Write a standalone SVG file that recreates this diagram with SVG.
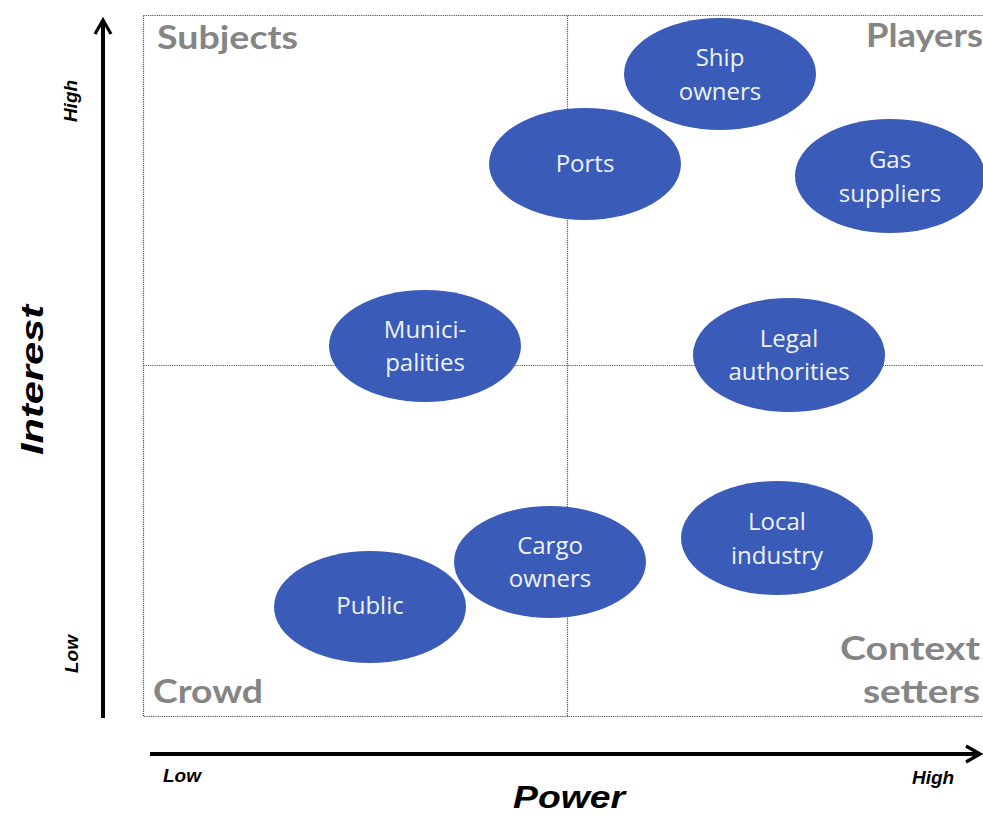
<svg xmlns="http://www.w3.org/2000/svg" width="983" height="815" viewBox="0 0 983 815">
<style>
.node ellipse{fill:#3A5BB8;}
.node text{font-family:"Open Sans","Noto Sans",sans-serif;font-size:24px;fill:#EEF2FA;text-anchor:middle;}
.quad{font-family:"Lato","Liberation Sans",sans-serif;font-weight:bold;font-size:33px;fill:#858585;}
.axis{font-family:"Liberation Sans",sans-serif;font-weight:bold;font-style:italic;fill:#000;}
.grid{fill:none;stroke:#555;stroke-width:1.2;stroke-dasharray:1.2 1;}
.ax{stroke:#000;stroke-width:4;fill:none;}
</style>
<defs>
<marker id="arr" viewBox="0 0 20 20" refX="17" refY="10" markerWidth="5" markerHeight="5" orient="auto" markerUnits="strokeWidth">
<path d="M3,2 L17,10 L3,18" fill="none" stroke="#000" stroke-width="3.2" stroke-linejoin="miter"/>
</marker>
</defs>
<rect width="983" height="815" fill="#fff"/>
<g id="grid">
<path class="grid" d="M143.5,15.5 H984 M143.5,15.5 V716.5 H984 M567.5,15.5 V716.5 M143.5,365.5 H984"/>
</g>
<g id="connectors">
<line class="ax" x1="103" y1="718" x2="103" y2="20" marker-end="url(#arr)"/>
<line class="ax" x1="150" y1="754" x2="980" y2="754" marker-end="url(#arr)"/>
</g>
<g id="labels">
<text class="quad" x="157" y="49" textLength="141" lengthAdjust="spacingAndGlyphs">Subjects</text>
<text class="quad" x="866" y="47" textLength="117" lengthAdjust="spacingAndGlyphs">Players</text>
<text class="quad" x="153" y="703" textLength="110" lengthAdjust="spacingAndGlyphs">Crowd</text>
<text class="quad" x="840" y="660" textLength="140" lengthAdjust="spacingAndGlyphs">Context</text>
<text class="quad" x="863" y="703" textLength="117" lengthAdjust="spacingAndGlyphs">setters</text>
<text class="axis" font-size="32" x="569" y="808" text-anchor="middle" textLength="112" lengthAdjust="spacingAndGlyphs">Power</text>
<text class="axis" font-size="32" transform="translate(43,380) rotate(-90)" text-anchor="middle" textLength="150" lengthAdjust="spacingAndGlyphs">Interest</text>
<text class="axis" font-size="19" transform="translate(77,101) rotate(-90)" text-anchor="middle">High</text>
<text class="axis" font-size="19" transform="translate(78,654) rotate(-90)" text-anchor="middle">Low</text>
<text class="axis" font-size="19" x="163" y="782">Low</text>
<text class="axis" font-size="19" x="912" y="784">High</text>
</g>
<g id="ship-owners" class="node"><ellipse cx="720" cy="74" rx="96" ry="56"/><text x="720" y="66">Ship</text><text x="720" y="100">owners</text></g>
<g id="ports" class="node"><ellipse cx="585" cy="164" rx="96" ry="56"/><text x="585" y="172">Ports</text></g>
<g id="gas-suppliers" class="node"><ellipse cx="890" cy="176" rx="95" ry="57"/><text x="890" y="168">Gas</text><text x="890" y="202">suppliers</text></g>
<g id="municipalities" class="node"><ellipse cx="425" cy="346" rx="96" ry="56"/><text x="425" y="338">Munici-</text><text x="425" y="371">palities</text></g>
<g id="legal-authorities" class="node"><ellipse cx="789" cy="355" rx="96" ry="57"/><text x="789" y="347">Legal</text><text x="789" y="380">authorities</text></g>
<g id="local-industry" class="node"><ellipse cx="777" cy="538" rx="96" ry="57"/><text x="777" y="530">Local</text><text x="777" y="564">industry</text></g>
<g id="cargo-owners" class="node"><ellipse cx="550" cy="562" rx="96" ry="56"/><text x="550" y="554">Cargo</text><text x="550" y="587">owners</text></g>
<g id="public" class="node"><ellipse cx="370" cy="607" rx="96" ry="56"/><text x="370" y="614">Public</text></g>
</svg>
